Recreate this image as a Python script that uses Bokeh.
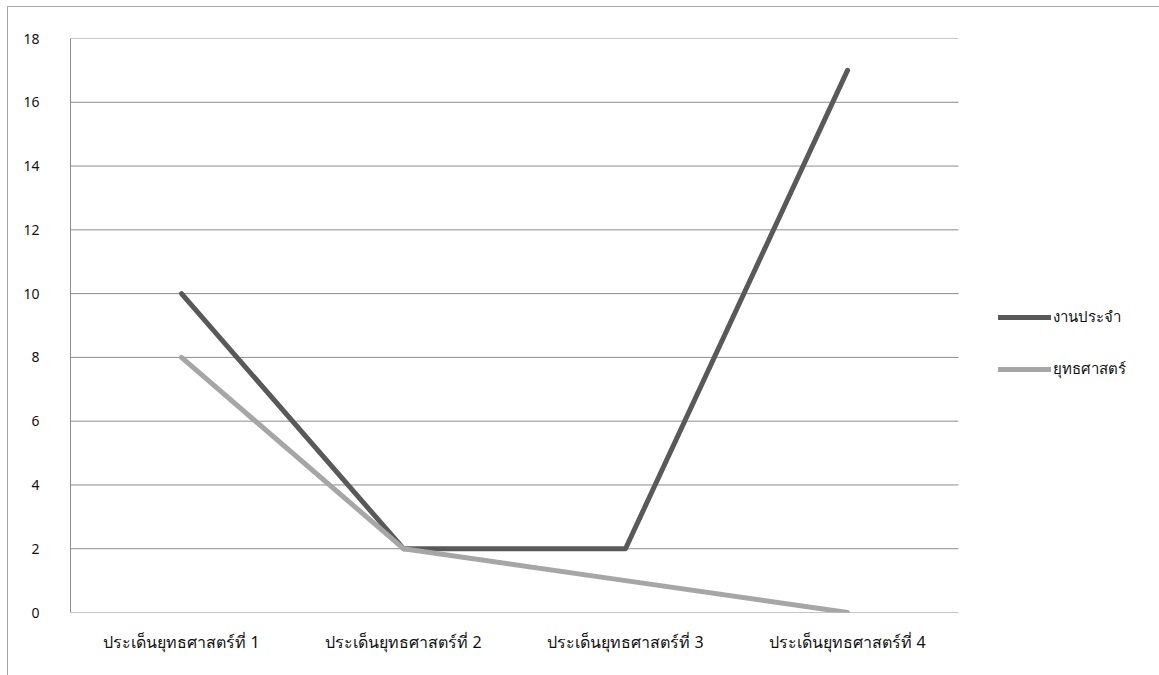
from bokeh.plotting import figure
from bokeh.models import FixedTicker, Legend, LegendItem, ColumnDataSource, Range1d
from bokeh.embed import file_html
from bokeh.resources import INLINE

categories = ["ประเด็นยุทธศาสตร์ที่ 1", "ประเด็นยุทธศาสตร์ที่ 2",
              "ประเด็นยุทธศาสตร์ที่ 3", "ประเด็นยุทธศาสตร์ที่ 4"]
routine = [10, 2, 2, 17]        # งานประจำ
strategy = [8, 2, 1, 0]         # ยุทธศาสตร์
series_names = ["งานประจำ", "ยุทธศาสตร์"]
y_ticks = [0, 2, 4, 6, 8, 10, 12, 14, 16, 18]

FONT = "Tahoma, 'Noto Sans', sans-serif"

n = len(categories)
xpos = [i + 0.5 for i in range(n)]   # category centres on a numeric scale

p = figure(x_range=Range1d(0, 1090 / 222), y_range=Range1d(0, 18),
           width=1152, height=669,
           output_backend="svg", toolbar_location=None,
           min_border_left=62, min_border_top=31, min_border_right=0,
           min_border_bottom=64)
p.styles = {"border-top": "1px solid #a6a6a6", "border-left": "1px solid #a6a6a6",
            "margin-top": "6px", "margin-left": "7px"}
p.outline_line_color = None
p.background_fill_color = "white"

# horizontal gridlines limited to the category area
p.segment(x0=[0] * len(y_ticks), x1=[n] * len(y_ticks), y0=y_ticks, y1=y_ticks,
          line_color="#8c8c8c", line_width=1)

src = ColumnDataSource(dict(x=xpos, routine=routine, strategy=strategy))
r1 = p.line("x", "routine", source=src, line_color="#595959", line_width=5,
            line_cap="round", line_join="round")
r2 = p.line("x", "strategy", source=src, line_color="#a6a6a6", line_width=5,
            line_cap="round", line_join="round")

p.xgrid.grid_line_color = None
p.ygrid.grid_line_color = None
p.yaxis.ticker = FixedTicker(ticks=y_ticks)
p.yaxis.axis_line_color = "#8c8c8c"
p.yaxis.major_tick_line_color = None
p.yaxis.minor_tick_line_color = None
p.yaxis.major_label_standoff = 25
p.yaxis.major_label_text_font = FONT
p.yaxis.major_label_text_font_size = "14px"
p.yaxis.major_label_text_color = "#111111"

p.xaxis.ticker = FixedTicker(ticks=xpos)
p.xaxis.major_label_overrides = {x: c for x, c in zip(xpos, categories)}
p.xaxis.axis_line_color = None
p.xaxis.major_tick_line_color = None
p.xaxis.minor_tick_line_color = None
p.xaxis.major_label_standoff = 12
p.xaxis.major_label_text_font = FONT
p.xaxis.major_label_text_font_size = "16px"
p.xaxis.major_label_text_color = "#111111"

legend = Legend(items=[LegendItem(label=series_names[0], renderers=[r1]),
                       LegendItem(label=series_names[1], renderers=[r2])],
                location=(928, 231), orientation="vertical",
                glyph_width=53, glyph_height=20, spacing=28, padding=0, margin=0,
                label_standoff=2, border_line_color=None,
                label_text_font=FONT, label_text_font_size="15px",
                label_text_color="#111111", background_fill_alpha=0)
p.add_layout(legend, "center")

open("out.html", "w").write(file_html(p, INLINE))
